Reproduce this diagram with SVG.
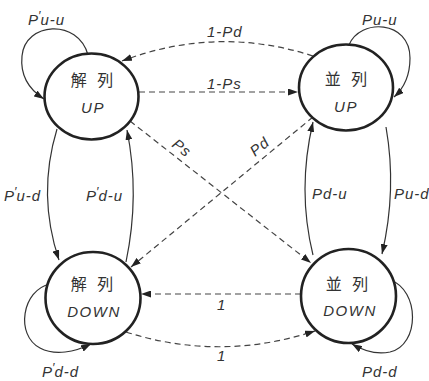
<svg xmlns="http://www.w3.org/2000/svg" width="429" height="381" viewBox="0 0 429 381">
<defs>
<marker id="ah" markerWidth="10" markerHeight="7" refX="10" refY="3.5" orient="auto" markerUnits="userSpaceOnUse">
<path d="M0,0 L10,3.5 L0,7 z" fill="#222"/>
</marker>
<style>
.node{fill:#fff;stroke:#222;stroke-width:2.6}
.cjk{font-family:"Liberation Sans","Noto Sans CJK JP",sans-serif;font-size:16px;fill:#333;text-anchor:middle;word-spacing:6px}
.lat{font-family:"Liberation Sans",Arial,sans-serif;font-style:italic;font-size:15px;fill:#333;text-anchor:middle;letter-spacing:1.5px}
.lbl{font-family:"Liberation Sans",Arial,sans-serif;font-style:italic;font-size:15px;fill:#333;letter-spacing:1px}
.pr{font-size:13px;letter-spacing:0}
.solid{fill:none;stroke:#333;stroke-width:1.2;marker-end:url(#ah)}
.dash{fill:none;stroke:#444;stroke-width:1.2;stroke-dasharray:6 4;marker-end:url(#ah)}
</style>
</defs>
<rect width="429" height="381" fill="#fff"/>
<g id="connectors">
<path class="dash" d="M313,56 Q217,25 122,61"/>
<path class="dash" d="M139,92 L298,92"/>
<path class="dash" d="M130,121 L311,263"/>
<path class="dash" d="M313,117 L131,267"/>
<path class="dash" d="M301,294 L141,294"/>
<path class="dash" d="M126,332 Q220,362 315,331"/>
<path class="solid" d="M57,129 Q37,195 59,260"/>
<path class="solid" d="M126,262 Q140,195 127,130"/>
<path class="solid" d="M313,255 Q297,190 313,122"/>
<path class="solid" d="M386,127 Q397,190 382,254"/>
<path class="solid" d="M88,55 C78,18 25,22 22,56 C20,76 30,90 44,99"/>
<path class="solid" d="M349,45 C360,18 410,20 410,58 C410,77 403,89 394,97"/>
<path class="solid" d="M50,284 C22,290 15,335 40,348 C55,356 75,352 91,344"/>
<path class="solid" d="M390,280 C420,290 420,345 390,352 C375,355 362,350 352,344"/>
<text class="lbl" x="207" y="37">1-Pd</text>
<text class="lbl" x="207" y="89">1-Ps</text>
<text class="lbl" transform="translate(171,146) rotate(38)">Ps</text>
<text class="lbl" transform="translate(255,157) rotate(-39)">Pd</text>
<text class="lbl" x="217" y="310">1</text>
<text class="lbl" x="217" y="361">1</text>
<text class="lbl" x="28" y="25">P<tspan class="pr" dx="-1" dy="-5">′</tspan><tspan dx="0" dy="5">u-u</tspan></text>
<text class="lbl" x="362" y="25">Pu-u</text>
<text class="lbl" x="4" y="201">P<tspan class="pr" dx="-1" dy="-5">′</tspan><tspan dx="0" dy="5">u-d</tspan></text>
<text class="lbl" x="86" y="201">P<tspan class="pr" dx="-1" dy="-5">′</tspan><tspan dx="0" dy="5">d-u</tspan></text>
<text class="lbl" x="312" y="199">Pd-u</text>
<text class="lbl" x="394" y="199">Pu-d</text>
<text class="lbl" x="42" y="377">P<tspan class="pr" dx="-1" dy="-5">′</tspan><tspan dx="0" dy="5">d-d</tspan></text>
<text class="lbl" x="362" y="377">Pd-d</text>
</g>
<g id="n-kairetsu-up">
<ellipse class="node" cx="91.5" cy="96.5" rx="47" ry="43"/>
<text class="cjk" x="92" y="86">解 列</text>
<text class="lat" x="93" y="113">UP</text>
</g>
<g id="n-heiretsu-up">
<ellipse class="node" cx="346" cy="87.5" rx="47" ry="43"/>
<text class="cjk" x="346" y="85">並 列</text>
<text class="lat" x="346" y="112">UP</text>
</g>
<g id="n-kairetsu-down">
<ellipse class="node" cx="93" cy="298" rx="47.5" ry="46"/>
<text class="cjk" x="92" y="290">解 列</text>
<text class="lat" x="94" y="317">DOWN</text>
</g>
<g id="n-heiretsu-down">
<ellipse class="node" cx="348.5" cy="296" rx="47.5" ry="47"/>
<text class="cjk" x="347" y="290">並 列</text>
<text class="lat" x="350" y="316">DOWN</text>
</g>
</svg>
